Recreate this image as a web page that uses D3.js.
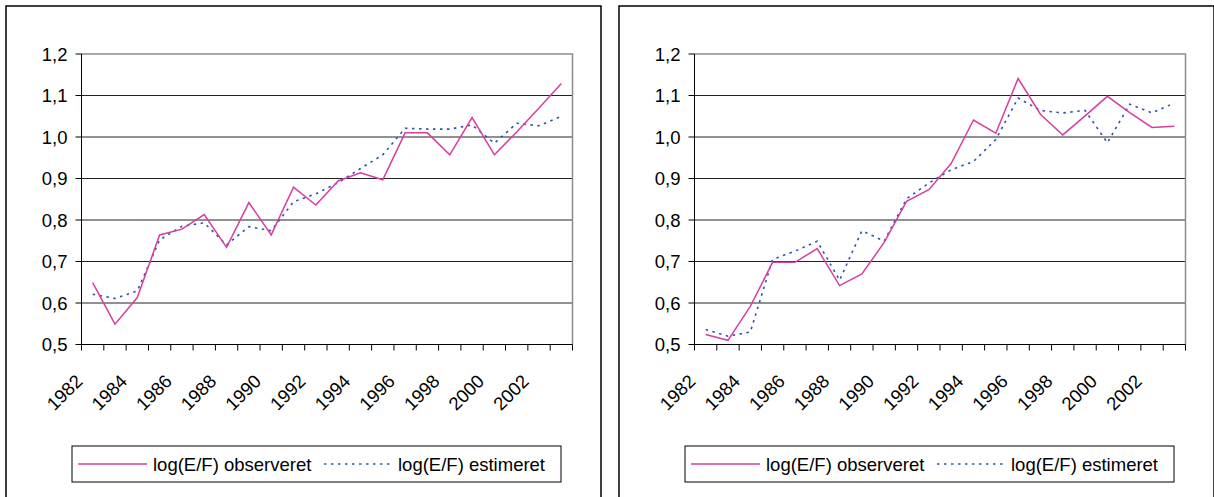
<!DOCTYPE html>
<html>
<head>
<meta charset="utf-8">
<script src="https://cdn.jsdelivr.net/npm/d3@7"></script>
<style>
  body { margin: 0; background: #fff; }
  svg { display: block; font-family: "Liberation Sans", Arial, sans-serif; }
</style>
</head>
<body>
<script>
const width = 1214;
const height = 497;

const years = ["1982", "1983", "1984", "1985", "1986", "1987", "1988", "1989", "1990", "1991", "1992",
  "1993", "1994", "1995", "1996", "1997", "1998", "1999", "2000", "2001", "2002", "2003"];
const yearLabels = ["1982", "1984", "1986", "1988", "1990", "1992", "1994", "1996", "1998", "2000", "2002"];
const yTicks = [0.5, 0.6, 0.7, 0.8, 0.9, 1.0, 1.1, 1.2];
const seriesNames = ["log(E/F) observeret", "log(E/F) estimeret"];

// left chart
const leftObserved = [0.649, 0.549, 0.613, 0.764, 0.778, 0.813, 0.734, 0.842, 0.764, 0.879, 0.836,
  0.894, 0.914, 0.897, 1.010, 1.010, 0.957, 1.047, 0.957, 1.012, 1.070, 1.129];
const leftEstimated = [0.621, 0.611, 0.629, 0.752, 0.785, 0.793, 0.740, 0.784, 0.774, 0.844, 0.863,
  0.890, 0.924, 0.957, 1.021, 1.019, 1.019, 1.029, 0.985, 1.033, 1.027, 1.050];

// right chart
const rightObserved = [0.524, 0.510, 0.592, 0.698, 0.698, 0.731, 0.642, 0.670, 0.746, 0.845, 0.873,
  0.936, 1.041, 1.009, 1.141, 1.055, 1.005, 1.051, 1.098, 1.059, 1.023, 1.026];
const rightEstimated = [0.536, 0.520, 0.530, 0.705, 0.725, 0.749, 0.655, 0.774, 0.749, 0.851, 0.889,
  0.921, 0.941, 0.994, 1.094, 1.064, 1.058, 1.064, 0.986, 1.079, 1.058, 1.082];

const pink = "#d63f9e";
const blue = "#2f52ad";
const fontSize = 18.5;
const fmt = v => d3.format(".1f")(v).replace(".", ",");

const svg = d3.select("body").append("svg")
  .attr("width", width)
  .attr("height", height);

function panel(fx, observed, estimated) {
  const g = svg.append("g");

  // outer frame
  g.append("rect")
    .attr("x", fx).attr("y", 6)
    .attr("width", 595).attr("height", 520)
    .attr("fill", "none")
    .attr("stroke", "#000")
    .attr("stroke-width", 1.5);

  const left = fx + 75.5, right = left + 491, top = 54, bottom = 344.5;

  const x = d3.scaleBand().domain(years).range([left, right]);
  const y = d3.scaleLinear().domain([0.5, 1.2]).range([bottom, top]);
  const cx = d => x(d) + x.bandwidth() / 2;

  // gridlines
  g.append("g")
    .selectAll("line")
    .data(yTicks.filter(t => t > 0.5 && t < 1.2))
    .join("line")
    .attr("x1", left).attr("x2", right)
    .attr("y1", d => y(d)).attr("y2", d => y(d))
    .attr("stroke", "#222")
    .attr("stroke-width", 1);

  // plot area border (top / right grey)
  g.append("path")
    .attr("d", `M${left},${top}H${right}V${bottom}`)
    .attr("fill", "none")
    .attr("stroke", "#8c8c8c")
    .attr("stroke-width", 1.5);

  // y axis
  g.append("line")
    .attr("x1", left).attr("x2", left)
    .attr("y1", top).attr("y2", bottom)
    .attr("stroke", "#000");
  g.append("g")
    .selectAll("line")
    .data(yTicks)
    .join("line")
    .attr("x1", left - 6).attr("x2", left)
    .attr("y1", d => y(d)).attr("y2", d => y(d))
    .attr("stroke", "#000");
  g.append("g")
    .attr("font-size", fontSize)
    .attr("text-anchor", "end")
    .selectAll("text")
    .data(yTicks)
    .join("text")
    .attr("x", left - 14)
    .attr("y", d => y(d))
    .attr("dy", "0.36em")
    .text(fmt);

  // x axis
  g.append("line")
    .attr("x1", left).attr("x2", right)
    .attr("y1", bottom).attr("y2", bottom)
    .attr("stroke", "#000");
  g.append("g")
    .selectAll("line")
    .data(years.map(d => x(d)).concat([right]))
    .join("line")
    .attr("x1", d => d).attr("x2", d => d)
    .attr("y1", bottom).attr("y2", bottom + 6)
    .attr("stroke", "#000");
  g.append("g")
    .attr("font-size", fontSize)
    .attr("text-anchor", "end")
    .selectAll("text")
    .data(yearLabels)
    .join("text")
    .attr("transform", d => `translate(${cx(d) - 9},${bottom + 38}) rotate(-45)`)
    .text(d => d);

  const line = d3.line()
    .x((d, i) => cx(years[i]))
    .y(d => y(d));

  g.append("path")
    .datum(estimated)
    .attr("d", line)
    .attr("fill", "none")
    .attr("stroke", blue)
    .attr("stroke-width", 1.6)
    .attr("stroke-dasharray", "2.5,4.5");

  g.append("path")
    .datum(observed)
    .attr("d", line)
    .attr("fill", "none")
    .attr("stroke", pink)
    .attr("stroke-width", 1.5);

  // legend
  const lx = fx + 66, ly = 446;
  const lg = g.append("g").attr("font-size", fontSize);
  lg.append("rect")
    .attr("x", lx).attr("y", ly)
    .attr("width", 489).attr("height", 36)
    .attr("fill", "#fff")
    .attr("stroke", "#000");
  lg.append("line")
    .attr("x1", lx + 6).attr("x2", lx + 75)
    .attr("y1", ly + 18).attr("y2", ly + 18)
    .attr("stroke", pink).attr("stroke-width", 1.5);
  lg.append("text")
    .attr("x", lx + 81).attr("y", ly + 18).attr("dy", "0.36em")
    .text(seriesNames[0]);
  lg.append("line")
    .attr("x1", lx + 252).attr("x2", lx + 318)
    .attr("y1", ly + 18).attr("y2", ly + 18)
    .attr("stroke", blue).attr("stroke-width", 1.6)
    .attr("stroke-dasharray", "2.5,4.5");
  lg.append("text")
    .attr("x", lx + 326).attr("y", ly + 18).attr("dy", "0.36em")
    .text(seriesNames[1]);
}

panel(6, leftObserved, leftEstimated);
panel(619, rightObserved, rightEstimated);
</script>
</body>
</html>
